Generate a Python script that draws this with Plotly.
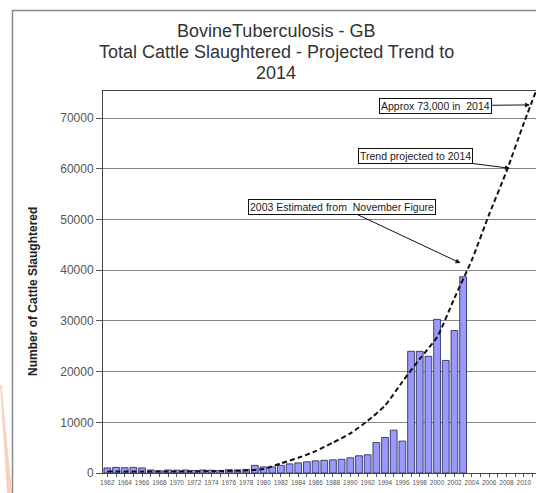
import plotly.graph_objects as go

# ---------------- data ----------------
years = [1962, 1963, 1964, 1965, 1966, 1967, 1968, 1969, 1970, 1971,
         1972, 1973, 1974, 1975, 1976, 1977, 1978, 1979, 1980, 1981,
         1982, 1983, 1984, 1985, 1986, 1987, 1988, 1989, 1990, 1991,
         1992, 1993, 1994, 1995, 1996, 1997, 1998, 1999, 2000, 2001,
         2002, 2003]
slaughtered = [1000, 1100, 1050, 1100, 1000, 600, 450, 600, 550, 600,
               500, 600, 550, 500, 650, 600, 700, 1500, 1200, 1200,
               1500, 1800, 2000, 2200, 2400, 2500, 2600, 2700, 3000, 3400,
               3600, 6000, 7000, 8450, 6300, 24000, 24000, 23000, 30300, 22200,
               28100, 38700]

trend_years = [1962, 1966, 1970, 1974, 1978, 1980, 1982, 1984, 1986, 1988,
               1990, 1992, 1994, 1996, 1998, 2000, 2002, 2004, 2006, 2008,
               2010, 2012]
trend_values = [300, 300, 300, 350, 500, 800, 1900, 3000, 4300, 6000,
                7800, 10300, 13300, 18000, 22500, 26800, 34500, 42000, 51000, 59500,
                69000, 78000]

x_tick_years = [1962, 1964, 1966, 1968, 1970, 1972, 1974, 1976, 1978, 1980,
                1982, 1984, 1986, 1988, 1990, 1992, 1994, 1996, 1998, 2000,
                2002, 2004, 2006, 2008, 2010, 2012, 2014]
x_tick_labels = ["1962", "1964", "1966", "1968", "1970", "1972", "1974", "1976", "1978", "1980",
                 "1982", "1984", "1986", "1988", "1990", "1992", "1994", "1996", "1998", "2000",
                 "2002", "2004", "2006", "2008", "2010", "2012", "2014"]
y_tick_values = [0, 10000, 20000, 30000, 40000, 50000, 60000, 70000]
y_tick_labels = ["0", "10000", "20000", "30000", "40000", "50000", "60000", "70000"]

title_lines = ["BovineTuberculosis - GB",
               "Total Cattle Slaughtered - Projected Trend to",
               "2014"]
y_title = "Number of Cattle Slaughtered"
note_2014 = "Approx 73,000 in  2014"
note_trend = "Trend projected to 2014"
note_2003 = "2003 Estimated from  November Figure"

FONT = "Arial, Liberation Sans, sans-serif"

# ---------------- geometry helpers (pixel -> paper) ----------------
W, H = 536, 493
ML, MR, MT, MB = 103, 0, 91, 20
PW, PH = W - ML - MR, H - MT - MB


def px(xp):
    return (xp - ML) / PW


def py(yp):
    return (H - MB - yp) / PH


fig = go.Figure()

fig.add_trace(go.Bar(
    x=years, y=slaughtered,
    marker=dict(color="#9999FF", line=dict(color="#222244", width=0.8)),
    showlegend=False, hoverinfo="x+y",
))

fig.add_trace(go.Scatter(
    x=trend_years, y=trend_values, mode="lines",
    line=dict(color="#111111", width=2, dash="5px,3px", shape="spline", smoothing=0.6),
    showlegend=False, hoverinfo="skip",
))

box = dict(bordercolor="#111111", borderwidth=1, bgcolor="white", borderpad=1,
           font=dict(family=FONT, size=10.5, color="#222"),
           showarrow=True, arrowhead=2, arrowsize=1, arrowwidth=1, arrowcolor="#111")

annotations = [
    dict(x=2010.7, y=72600, text=note_2014, ax=-94, ay=1, **box),
    dict(x=2008.4, y=60100, text=note_trend, ax=-94, ay=-12, **box),
    dict(x=2002.7, y=41400, text=note_2003, ax=-119, ay=-56, **box),
    dict(xref="paper", yref="paper", x=px(33), y=py(292), text="<b>" + y_title + "</b>",
         textangle=-90, showarrow=False, xanchor="center", yanchor="middle",
         font=dict(family=FONT, size=12, color="#222")),
]

# title lines placed individually
for line, yc in zip(title_lines, [31, 52, 73]):
    annotations.append(dict(xref="paper", yref="paper", x=px(276), y=py(yc), text=line,
                            showarrow=False, xanchor="center", yanchor="middle",
                            font=dict(family=FONT, size=18, color="#333")))

shapes = [
    # outer chart-area border (top and left)
    dict(type="line", xref="paper", yref="paper", x0=px(12), x1=1.02, y0=py(10.5), y1=py(10.5),
         line=dict(color="#8a8a8a", width=1.5)),
    dict(type="line", xref="paper", yref="paper", x0=px(12.5), x1=px(12.5), y0=py(10), y1=py(500),
         line=dict(color="#8a8a8a", width=1.5)),
    # faint orange stripe at lower-left
    dict(type="path", xref="paper", yref="paper",
         path=f"M {px(0)},{py(385)} L {px(1.5)},{py(385)} L {px(12)},{py(493)} L {px(7)},{py(493)} Z",
         fillcolor="rgba(245,170,140,0.55)", line=dict(width=0)),
]

fig.update_layout(
    width=W, height=H,
    margin=dict(l=ML, r=MR, t=MT, b=MB),
    paper_bgcolor="white", plot_bgcolor="white",
    bargap=0.22,
    xaxis=dict(range=[1961.5, 2011.4], tickmode="array", tickvals=x_tick_years,
               ticktext=x_tick_labels, tickangle=0,
               tickfont=dict(family=FONT, size=6.5, color="#555"),
               ticks="outside", ticklen=3, tickcolor="#555",
               minor=dict(dtick=1, ticks="outside", ticklen=3, tickcolor="#555"),
               showline=True, linecolor="#444", linewidth=1, mirror=True,
               showgrid=False, zeroline=False, fixedrange=True),
    yaxis=dict(range=[0, 75340], tickmode="array", tickvals=y_tick_values,
               ticktext=y_tick_labels,
               tickfont=dict(family=FONT, size=12, color="#555"),
               ticks="outside", ticklen=6, tickcolor="#555",
               showline=True, linecolor="#444", linewidth=1,
               showgrid=True, gridcolor="#858585", gridwidth=1.2,
               zeroline=False, fixedrange=True),
    annotations=annotations,
    shapes=shapes,
)

fig.write_html("out.html")
